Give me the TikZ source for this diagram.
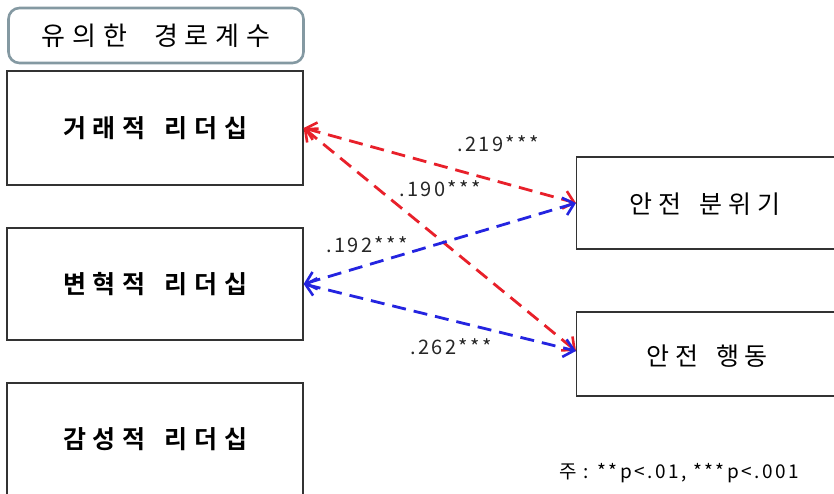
\documentclass[tikz,border=0pt]{standalone}
\usepackage{fontspec}
\usetikzlibrary{arrows.meta}
\newfontfamily\krbold[LetterSpace=27]{Noto Sans CJK KR Bold}
\newfontfamily\krbox[LetterSpace=23]{Noto Sans CJK KR}
\newfontfamily\krreg[LetterSpace=27]{Noto Sans CJK KR}
\newfontfamily\krnum[LetterSpace=12]{Noto Sans CJK KR}
\newfontfamily\krnote[LetterSpace=13]{Noto Sans CJK KR}
\definecolor{pathred}{HTML}{E8202A}
\definecolor{pathblue}{HTML}{2424E0}
\definecolor{titleframe}{HTML}{8499A2}
\definecolor{boxframe}{HTML}{333333}
\newcommand{\wsp}{\hspace{19pt}}
\newcommand{\lsp}{\hspace{18pt}}
\newcommand{\tsp}{\hspace{27pt}}
\begin{document}
\begin{tikzpicture}[x=1pt,y=-1pt,
  varbox/.style={draw=boxframe,line width=1.3pt,rectangle,inner sep=0pt,font=\krbold\fontsize{25}{28}\selectfont},
  boxlabel/.style={inner sep=0pt,font=\krbox\fontsize{25}{28}\selectfont},
  titlebox/.style={draw=titleframe,line width=2.6pt,rounded corners=11pt,inner sep=0pt,minimum width=295pt,minimum height=55pt,font=\krreg\fontsize{26}{28}\selectfont},
  path/.style={dash pattern=on 14pt off 8pt,line width=2.8pt,{Straight Barb[length=10pt,width=18pt,line width=2.6pt]}-{Straight Barb[length=10pt,width=18pt,line width=2.6pt]}},
  coef/.style={font=\krnum\fontsize{20}{22}\selectfont,inner sep=0pt,text=black!85}
  ]
\useasboundingbox (0,0) rectangle (834,494);
\node[titlebox] (title) at (156,35.5) {유의한\tsp 경로계수};
\node[varbox,minimum width=296pt,minimum height=114pt] (tl) at (155,128) {거래적\wsp 리더십};
\node[varbox,minimum width=296pt,minimum height=112pt] (tf) at (155,284) {변혁적\wsp 리더십};
\node[varbox,minimum width=296pt,minimum height=112pt] (em) at (155,439) {감성적\wsp 리더십};
\node[varbox,minimum width=262pt,minimum height=92pt,anchor=west] (cl) at (576,203) {};
\node[boxlabel] (cltext) at (705,204) {안전\lsp 분위기};
\node[varbox,minimum width=262pt,minimum height=84pt,anchor=west] (bh) at (576,354) {};
\node[boxlabel] (bhtext) at (707,356) {안전\lsp 행동};
\draw[path,pathred] (tl.east) -- (cl.west);
\draw[path,pathred] (tl.east) -- ([yshift=3pt]bh.west);
\draw[path,pathblue] (tf.east) -- (cl.west);
\draw[path,pathblue] (tf.east) -- ([yshift=3pt]bh.west);
\node[coef] (c1) at (498,144) {.219***};
\node[coef] (c2) at (440,189) {.190***};
\node[coef] (c3) at (367,245) {.192***};
\node[coef] (c4) at (451,347) {.262***};
\node[font=\krnote\fontsize{19}{22}\selectfont,inner sep=0pt] (note) at (679,473) {주 : **p<.01, ***p<.001};
\end{tikzpicture}
\end{document}
